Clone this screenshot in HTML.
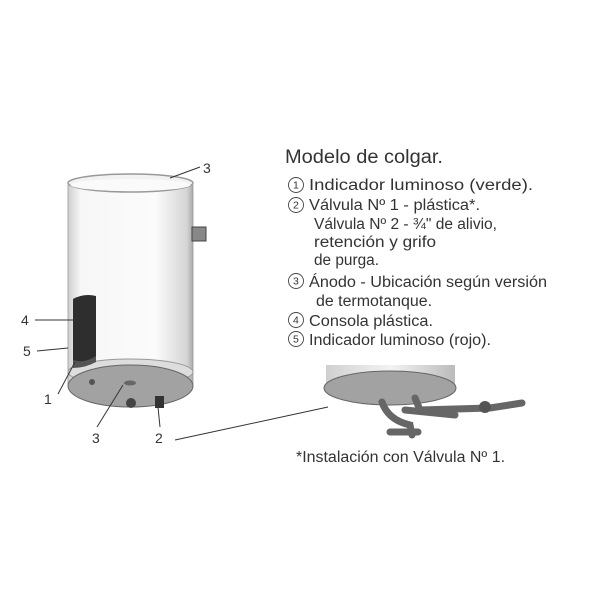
<!DOCTYPE html>
<html><head><style>
body{margin:0;background:#fff;width:600px;height:600px;overflow:hidden}
svg{display:block}
text{font-family:"Liberation Sans",sans-serif;fill:#333}
</style></head><body>
<svg width="600" height="600" viewBox="0 0 600 600">
<defs>
<linearGradient id="body" x1="0" x2="1">
<stop offset="0" stop-color="#cfcfcf"/><stop offset="0.1" stop-color="#f7f7f7"/><stop offset="0.7" stop-color="#fbfbfb"/><stop offset="0.95" stop-color="#d5d5d5"/><stop offset="1" stop-color="#aaa"/>
</linearGradient>
<linearGradient id="body2" x1="0" x2="1">
<stop offset="0" stop-color="#d0d0d0"/><stop offset="0.5" stop-color="#f3f3f3"/><stop offset="1" stop-color="#bbb"/>
</linearGradient>
</defs>
<path d="M68,185 L68,385 L193,385 L193,185 Z" fill="url(#body)" stroke="#999" stroke-width="0.8"/>
<ellipse cx="130.5" cy="183" rx="62.5" ry="9" fill="#f2f2f2" stroke="#999" stroke-width="1.5"/>
<ellipse cx="130.5" cy="185" rx="60" ry="6" fill="#fafafa"/>
<rect x="192" y="227" width="14" height="14" fill="#888" stroke="#444"/>
<ellipse cx="130.5" cy="372" rx="62.5" ry="13" fill="#ddd" stroke="#999"/>
<ellipse cx="130.5" cy="386" rx="62.5" ry="21" fill="#a2a2a2" stroke="#666"/>
<ellipse cx="130" cy="383" rx="6" ry="2.5" fill="#666"/>
<circle cx="131" cy="403" r="5" fill="#444"/>
<rect x="155" y="396" width="9" height="12" fill="#333"/>
<circle cx="92" cy="382" r="3" fill="#555"/>
<path d="M73,299 Q84,293 96,296 L96,358 Q85,364 73,363 Z" fill="#2e2e2e"/>
<path d="M73,360 Q84,364 96,356 L96,362 Q85,368 73,368 Z" fill="#555"/>
<g stroke="#333" stroke-width="1" fill="none">
<line x1="35" y1="320" x2="73" y2="320"/>
<line x1="37" y1="351" x2="68" y2="348"/>
<line x1="58" y1="394" x2="75" y2="362"/>
<line x1="97" y1="427" x2="123" y2="385"/>
<line x1="160" y1="427" x2="158" y2="407"/>
<line x1="175" y1="440" x2="328" y2="407"/>
<line x1="170" y1="178" x2="200" y2="167"/>
</g>
<g font-size="14">
<text x="203" y="173">3</text>
<text x="21" y="325">4</text>
<text x="23" y="356">5</text>
<text x="44" y="404">1</text>
<text x="92" y="443">3</text>
<text x="155" y="443">2</text>
</g>
<path d="M326,365 L455,365 L455,385 L326,385 Z" fill="url(#body2)"/>
<ellipse cx="390" cy="388" rx="66" ry="17" fill="#a2a2a2" stroke="#666"/>
<g stroke="#666" stroke-width="7" stroke-linecap="round" fill="none">
<path d="M382,402 Q388,420 410,425 L412,435"/>
<path d="M390,432 L418,432"/>
<path d="M415,398 L420,410 L490,408 L522,403"/>
<path d="M405,410 L455,415"/>
</g>
<circle cx="485" cy="407" r="6" fill="#555"/>
<text x="285" y="163" font-size="19" textLength="158" lengthAdjust="spacingAndGlyphs">Modelo de colgar.</text>
<g font-size="15.5">
<g fill="none" stroke="#444" stroke-width="0.9">
<circle cx="296" cy="185" r="7.5"/><circle cx="296" cy="205" r="7.5"/><circle cx="296" cy="281" r="7.5"/><circle cx="296" cy="320" r="7.5"/><circle cx="296" cy="339" r="7.5"/>
</g>
<g font-size="10.5"><text x="293" y="188.5">1</text><text x="293" y="208.5">2</text><text x="293" y="284.5">3</text><text x="293" y="323.5">4</text><text x="293" y="342.5">5</text></g>
<text x="309" y="190" textLength="224" lengthAdjust="spacingAndGlyphs">Indicador luminoso (verde).</text>
<text x="309" y="210" textLength="171" lengthAdjust="spacingAndGlyphs">Válvula Nº 1 - plástica*.</text>
<text x="314" y="229" textLength="183" lengthAdjust="spacingAndGlyphs">Válvula Nº 2 - ¾" de alivio,</text>
<text x="314" y="247" textLength="122" lengthAdjust="spacingAndGlyphs">retención y grifo</text>
<text x="314" y="265" textLength="65" lengthAdjust="spacingAndGlyphs">de purga.</text>
<text x="309" y="287" textLength="238" lengthAdjust="spacingAndGlyphs">Ánodo - Ubicación según versión</text>
<text x="316" y="306" textLength="116" lengthAdjust="spacingAndGlyphs">de termotanque.</text>
<text x="309" y="326" textLength="124" lengthAdjust="spacingAndGlyphs">Consola plástica.</text>
<text x="309" y="345" textLength="182" lengthAdjust="spacingAndGlyphs">Indicador luminoso (rojo).</text>
<text x="296" y="462" textLength="209" lengthAdjust="spacingAndGlyphs">*Instalación con Válvula Nº 1.</text>
</g>
</svg>
</body></html>
